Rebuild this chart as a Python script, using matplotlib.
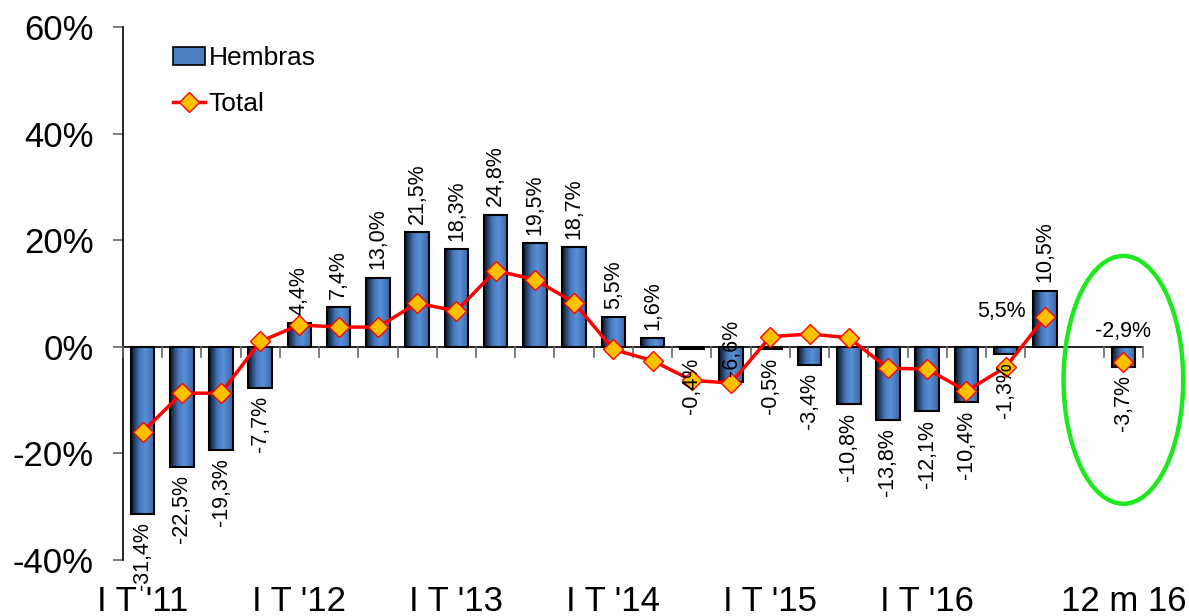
import numpy as np
import matplotlib
matplotlib.use("Agg")
import matplotlib.pyplot as plt
from matplotlib.colors import LinearSegmentedColormap
from matplotlib.patches import Ellipse, Patch
from matplotlib.lines import Line2D
import matplotlib.transforms as mtransforms

plt.rcParams['font.family'] = ['Liberation Sans', 'DejaVu Sans']

# Datos (tasas de variación interanual)
hembras = [-31.4, -22.5, -19.3, -7.7, 4.4, 7.4, 13.0, 21.5, 18.3, 24.8, 19.5, 18.7,
           5.5, 1.6, -0.4, -6.6, -0.5, -3.4, -10.8, -13.8, -12.1, -10.4, -1.3, 10.5]
total = [-16.0, -8.7, -8.7, 1.0, 4.1, 3.7, 3.7, 8.2, 6.7, 14.3, 12.6, 8.3,
         -0.5, -2.6, -6.3, -6.8, 1.9, 2.4, 1.7, -4.0, -4.2, -8.3, -3.8, 5.5]
hembras_12m = -3.7
total_12m = -2.9
etiquetas = ["I T '11", "I T '12", "I T '13", "I T '14", "I T '15", "I T '16", "12 m 16"]
pos_etiquetas = [0, 4, 8, 12, 16, 20, 25]

x = np.arange(len(hembras))
x12 = 25
ancho = 0.6

fig = plt.figure(figsize=(11.89, 6.16), dpi=100)
ax = fig.add_axes([0.1034, 0.0909, 0.8579, 0.8653])

# Barras con degradado
cmap = LinearSegmentedColormap.from_list(
    'barra', [(0, '#0b1626'), (0.35, '#4576b8'), (0.6, '#5890d8'), (1, '#3a67a6')])
grad = np.linspace(0, 1, 64).reshape(1, -1)
todas_x = list(x) + [x12]
todas_v = hembras + [hembras_12m]
barras = ax.bar(todas_x, todas_v, width=ancho, color='none', edgecolor='black',
                linewidth=1.5, zorder=3)
for b in barras:
    x0, y0 = b.get_x(), b.get_y()
    w, h = b.get_width(), b.get_height()
    im = ax.imshow(grad, cmap=cmap, aspect='auto', zorder=2,
                   extent=[x0, x0 + w, min(y0, y0 + h), max(y0, y0 + h)])
    im.set_clip_path(b)
ax.set_xlim(-0.5, 25.5)
ax.set_ylim(-40, 60)

# Línea total
ax.plot(x, total, color='red', linewidth=2.5, marker='D', markersize=10,
        markerfacecolor='#ffc000', markeredgecolor='red', markeredgewidth=1, zorder=5)
ax.plot([x12], [total_12m], linestyle='none', marker='D', markersize=10,
        markerfacecolor='#ffc000', markeredgecolor='red', markeredgewidth=1, zorder=5)

# Etiquetas de las barras
fs = 15.5
for i, v in zip(todas_x, todas_v):
    txt = f"{v:.1f}%".replace('.', ',')
    if i == 15:
        ax.text(i, -0.3, txt, rotation=90, ha='center', va='center', fontsize=fs, zorder=6)
    elif v >= 0:
        ax.annotate(txt, (i, v), xytext=(0, 6), textcoords='offset points',
                    rotation=90, ha='center', va='bottom', fontsize=fs, zorder=6)
    else:
        ax.annotate(txt, (i, v), xytext=(0, -6), textcoords='offset points',
                    rotation=90, ha='center', va='top', fontsize=fs, zorder=6)

ax.annotate("5,5%", (23, total[23]), xytext=(-14, 4), textcoords='offset points',
            ha='right', va='center', fontsize=fs, zorder=6)
ax.annotate("-2,9%", (x12, total_12m), xytext=(0, 22), textcoords='offset points',
            ha='center', va='center', fontsize=fs, zorder=6)

# Ejes
for s in ['top', 'right', 'bottom']:
    ax.spines[s].set_visible(False)
ax.spines['left'].set_linewidth(1.2)
ax.axhline(0, color='black', linewidth=1.2, zorder=4)
ax.set_yticks([-40, -20, 0, 20, 40, 60])
ax.set_yticklabels(['-40%', '-20%', '0%', '20%', '40%', '60%'])
ax.tick_params(axis='y', direction='out', length=7, width=1.2, color='#666666',
               labelsize=25, pad=14)

# Marcas del eje x en los límites de categoría, bajo el cero
ax.set_xticks([])
for b in np.arange(-0.5, 26, 1):
    ax.plot([b, b], [0, -2], color='#666666', linewidth=1.2, zorder=4, clip_on=False)

# Etiquetas de categoría abajo
trans = mtransforms.blended_transform_factory(ax.transData, ax.transAxes)
for p, t in zip(pos_etiquetas, etiquetas):
    ax.text(p, -0.047, t, transform=trans, ha='center', va='top', fontsize=25,
            clip_on=False)

# Elipse verde
el = Ellipse((x12, -6.2), width=3.05, height=46.5, fill=False, edgecolor='#1ee81e',
             linewidth=3.2, zorder=7, clip_on=False)
ax.add_patch(el)

# Leyenda
h1 = Patch(facecolor='#4a7ebf', edgecolor='black', linewidth=1.2)
h2 = Line2D([0], [0], color='red', linewidth=2.5, marker='D', markersize=10,
            markerfacecolor='#ffc000', markeredgecolor='red')
fig.legend([h1, h2], ['Hembras', 'Total'], loc='upper left',
           bbox_to_anchor=(173 / 1189, 1 - 46 / 616), frameon=False, fontsize=19,
           handlelength=1.2, handletextpad=0.15, labelspacing=0.85, borderpad=0,
           borderaxespad=0)

fig.savefig('out.png', dpi=100)
